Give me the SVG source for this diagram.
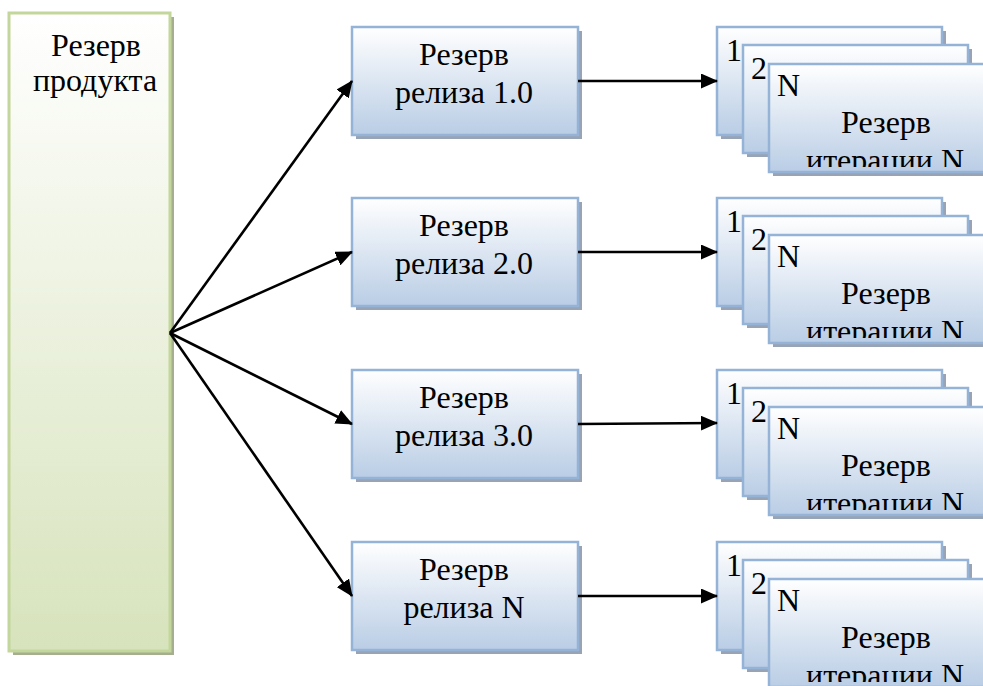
<svg xmlns="http://www.w3.org/2000/svg" width="983" height="686" viewBox="0 0 983 686">
<defs>
<linearGradient id="gGreen" x1="0" y1="0" x2="0" y2="1">
<stop offset="0" stop-color="#ffffff"/>
<stop offset="1" stop-color="#d7e3bc"/>
</linearGradient>
<linearGradient id="gBlue" x1="0" y1="0" x2="0" y2="1">
<stop offset="0" stop-color="#ffffff"/>
<stop offset="1" stop-color="#b9cde5"/>
</linearGradient>
<marker id="arrow" markerUnits="userSpaceOnUse" markerWidth="17" markerHeight="15" refX="16" refY="7.5" orient="auto">
<path d="M0,0 L17,7.5 L0,15 z" fill="#000"/>
</marker>
<clipPath id="clipCard3" clipPathUnits="userSpaceOnUse">
<rect x="769" y="64" width="214" height="103"/>
</clipPath>
</defs>
<style>
.txt{font-family:"Liberation Serif","Times New Roman","DejaVu Serif",serif;font-size:32px;fill:#000;}
.mid{text-anchor:middle;}
.shB{fill:#98a4b6;}
.shG{fill:#a5ae8e;}
.boxB{fill:url(#gBlue);stroke:#95b3d7;stroke-width:2.5;}
.boxG{fill:url(#gGreen);stroke:#c3d69b;stroke-width:3;}
.conn{stroke:#000;stroke-width:2.6;fill:none;marker-end:url(#arrow);}
</style>
<rect width="983" height="686" fill="#ffffff"/>

<g id="product">
<rect class="shG" x="13" y="17" width="161" height="638"/>
<rect class="boxG" x="9" y="13" width="161" height="638"/>
<text class="txt mid" x="96" y="56">Резерв</text>
<text class="txt mid" x="95" y="91">продукта</text>
</g>

<g id="release1">
<rect class="shB" x="356" y="31" width="226" height="108"/>
<rect class="boxB" x="352" y="27" width="226" height="108"/>
<text class="txt mid" x="464" y="65">Резерв</text>
<text class="txt mid" x="464" y="103">релиза 1.0</text>
</g>
<g id="release2" transform="translate(0,171)">
<rect class="shB" x="356" y="31" width="226" height="108"/>
<rect class="boxB" x="352" y="27" width="226" height="108"/>
<text class="txt mid" x="464" y="65">Резерв</text>
<text class="txt mid" x="464" y="103">релиза 2.0</text>
</g>
<g id="release3" transform="translate(0,343)">
<rect class="shB" x="356" y="31" width="226" height="108"/>
<rect class="boxB" x="352" y="27" width="226" height="108"/>
<text class="txt mid" x="464" y="65">Резерв</text>
<text class="txt mid" x="464" y="103">релиза 3.0</text>
</g>
<g id="releaseN" transform="translate(0,515)">
<rect class="shB" x="356" y="31" width="226" height="108"/>
<rect class="boxB" x="352" y="27" width="226" height="108"/>
<text class="txt mid" x="464" y="65">Резерв</text>
<text class="txt mid" x="464" y="103">релиза N</text>
</g>

<g id="iterations1">
<rect class="shB" x="721" y="31" width="225" height="108"/>
<rect class="boxB" x="717" y="27" width="225" height="108"/>
<text class="txt" x="726" y="61">1</text>
<rect class="shB" x="747" y="49" width="225" height="108"/>
<rect class="boxB" x="743" y="45" width="225" height="108"/>
<text class="txt" x="751" y="79">2</text>
<rect class="shB" x="773" y="68" width="225" height="108"/>
<rect class="boxB" x="769" y="64" width="225" height="108"/>
<text class="txt" x="777" y="96">N</text>
<g clip-path="url(#clipCard3)">
<text class="txt mid" x="886" y="133">Резерв</text>
<text class="txt mid" x="885" y="171">итерации N</text>
</g>
</g>
<g id="iterations2" transform="translate(0,171)">
<rect class="shB" x="721" y="31" width="225" height="108"/>
<rect class="boxB" x="717" y="27" width="225" height="108"/>
<text class="txt" x="726" y="61">1</text>
<rect class="shB" x="747" y="49" width="225" height="108"/>
<rect class="boxB" x="743" y="45" width="225" height="108"/>
<text class="txt" x="751" y="79">2</text>
<rect class="shB" x="773" y="68" width="225" height="108"/>
<rect class="boxB" x="769" y="64" width="225" height="108"/>
<text class="txt" x="777" y="96">N</text>
<g clip-path="url(#clipCard3)">
<text class="txt mid" x="886" y="133">Резерв</text>
<text class="txt mid" x="885" y="171">итерации N</text>
</g>
</g>
<g id="iterations3" transform="translate(0,343)">
<rect class="shB" x="721" y="31" width="225" height="108"/>
<rect class="boxB" x="717" y="27" width="225" height="108"/>
<text class="txt" x="726" y="61">1</text>
<rect class="shB" x="747" y="49" width="225" height="108"/>
<rect class="boxB" x="743" y="45" width="225" height="108"/>
<text class="txt" x="751" y="79">2</text>
<rect class="shB" x="773" y="68" width="225" height="108"/>
<rect class="boxB" x="769" y="64" width="225" height="108"/>
<text class="txt" x="777" y="96">N</text>
<g clip-path="url(#clipCard3)">
<text class="txt mid" x="886" y="133">Резерв</text>
<text class="txt mid" x="885" y="171">итерации N</text>
</g>
</g>
<g id="iterationsN" transform="translate(0,515)">
<rect class="shB" x="721" y="31" width="225" height="108"/>
<rect class="boxB" x="717" y="27" width="225" height="108"/>
<text class="txt" x="726" y="61">1</text>
<rect class="shB" x="747" y="49" width="225" height="108"/>
<rect class="boxB" x="743" y="45" width="225" height="108"/>
<text class="txt" x="751" y="79">2</text>
<rect class="shB" x="773" y="68" width="225" height="108"/>
<rect class="boxB" x="769" y="64" width="225" height="108"/>
<text class="txt" x="777" y="96">N</text>
<g clip-path="url(#clipCard3)">
<text class="txt mid" x="886" y="133">Резерв</text>
<text class="txt mid" x="885" y="171">итерации N</text>
</g>
</g>

<g id="connectors">
<line class="conn" x1="170" y1="333" x2="352" y2="81"/>
<line class="conn" x1="170" y1="333" x2="352" y2="252"/>
<line class="conn" x1="170" y1="333" x2="352" y2="424"/>
<line class="conn" x1="170" y1="333" x2="352" y2="596"/>
<line class="conn" x1="578" y1="81" x2="717" y2="81"/>
<line class="conn" x1="578" y1="252" x2="717" y2="252"/>
<line class="conn" x1="578" y1="424" x2="717" y2="423"/>
<line class="conn" x1="578" y1="596" x2="717" y2="596"/>
</g>
</svg>
